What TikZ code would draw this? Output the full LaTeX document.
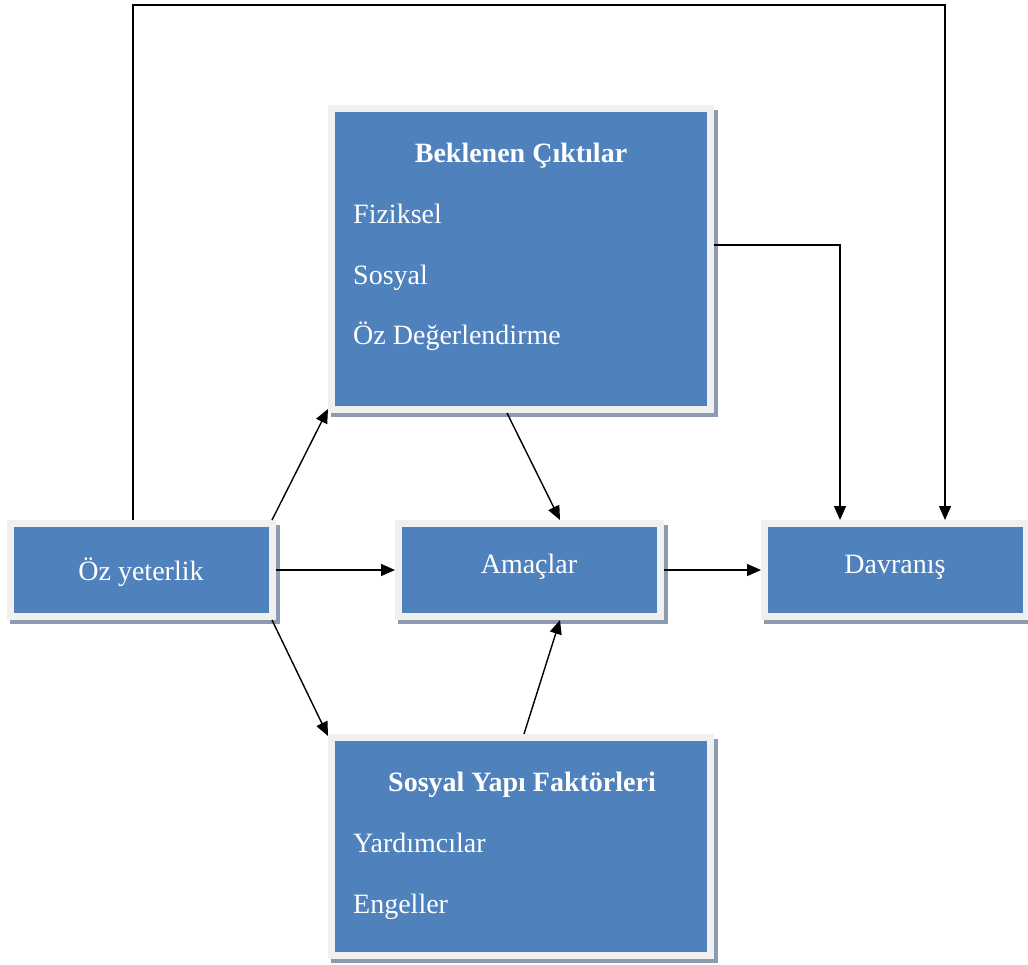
\documentclass[tikz,border=0pt]{standalone}
\usepackage{fontspec}
\setmainfont{Liberation Serif}
\usetikzlibrary{arrows.meta,backgrounds,calc}
\definecolor{boxblue}{HTML}{4F81BD}
\definecolor{framec}{HTML}{F0F0F0}
\definecolor{shadowc}{HTML}{8E9AAD}
\begin{document}
\begin{tikzpicture}[x=1pt,y=-1pt,
  box/.style={rectangle, fill=boxblue, draw=framec, line width=7pt, inner sep=0pt},
  lbl/.style={inner sep=0pt, text=white, font=\fontsize{28}{33}\selectfont},
  hd/.style={lbl, font=\fontsize{28}{33}\selectfont\bfseries},
  arr/.style={draw=black, line width=1.4pt, -{Triangle[length=14pt,width=12pt]}}]
\useasboundingbox (0,0) rectangle (1028,964);
% boxes
\node[box, minimum width=379pt, minimum height=301pt] (bek) at (521,259) {};
\node[box, minimum width=262pt, minimum height=93pt] (oz) at (141.5,570) {};
\node[box, minimum width=262pt, minimum height=93pt] (ama) at (529.5,570) {};
\node[box, minimum width=262pt, minimum height=93pt] (dav) at (895.5,570) {};
\node[box, minimum width=379pt, minimum height=218pt] (sos) at (521,846.5) {};
% shadows
\begin{pgfonlayer}{background}
  \foreach \n in {bek,oz,ama,dav,sos}{
    \fill[shadowc] ($(\n.south west)+(3,4)$) rectangle ($(\n.north east)+(4,5)$);
  }
\end{pgfonlayer}
% texts
\node[lbl, anchor=base] (ozt) at (141,580) {Öz yeterlik};
\node[lbl, anchor=base] (amat) at (529,573) {Amaçlar};
\node[lbl, anchor=base] (davt) at (895,573) {Davranış};
\node[hd, anchor=base] (bekh) at (521,162) {Beklenen Çıktılar};
\node[lbl, anchor=base west] (bek1) at (353,223) {Fiziksel};
\node[lbl, anchor=base west] (bek2) at (353,284) {Sosyal};
\node[lbl, anchor=base west] (bek3) at (353,344) {Öz Değerlendirme};
\node[hd, anchor=base] (sosh) at (522,791) {Sosyal Yapı Faktörleri};
\node[lbl, anchor=base west] (sos1) at (353,852) {Yardımcılar};
\node[lbl, anchor=base west] (sos2) at (353,913) {Engeller};
% connectors
\coordinate (topc) at (540,5);
\draw[arr] ([xshift=-8.5pt]oz.north) |- (topc) -| ([xshift=49.5pt]dav.north);
\draw[arr] ([yshift=14pt]bek.east) -| ([xshift=-55.5pt]dav.north);
\draw[arr] (oz.east) -- (ama.west);
\draw[arr] (ama.east) -- (dav.west);
\draw[arr] ([xshift=-4pt]oz.north east) -- ([yshift=4pt]bek.south west);
\draw[arr] ([xshift=-4pt]oz.south east) -- ([yshift=-2pt]sos.north west);
\draw[arr] ([xshift=-14pt]bek.south) -- ([xshift=30.5pt]ama.north);
\draw[arr] ([xshift=3pt]sos.north) -- ([xshift=30.5pt]ama.south);
\end{tikzpicture}
\end{document}
